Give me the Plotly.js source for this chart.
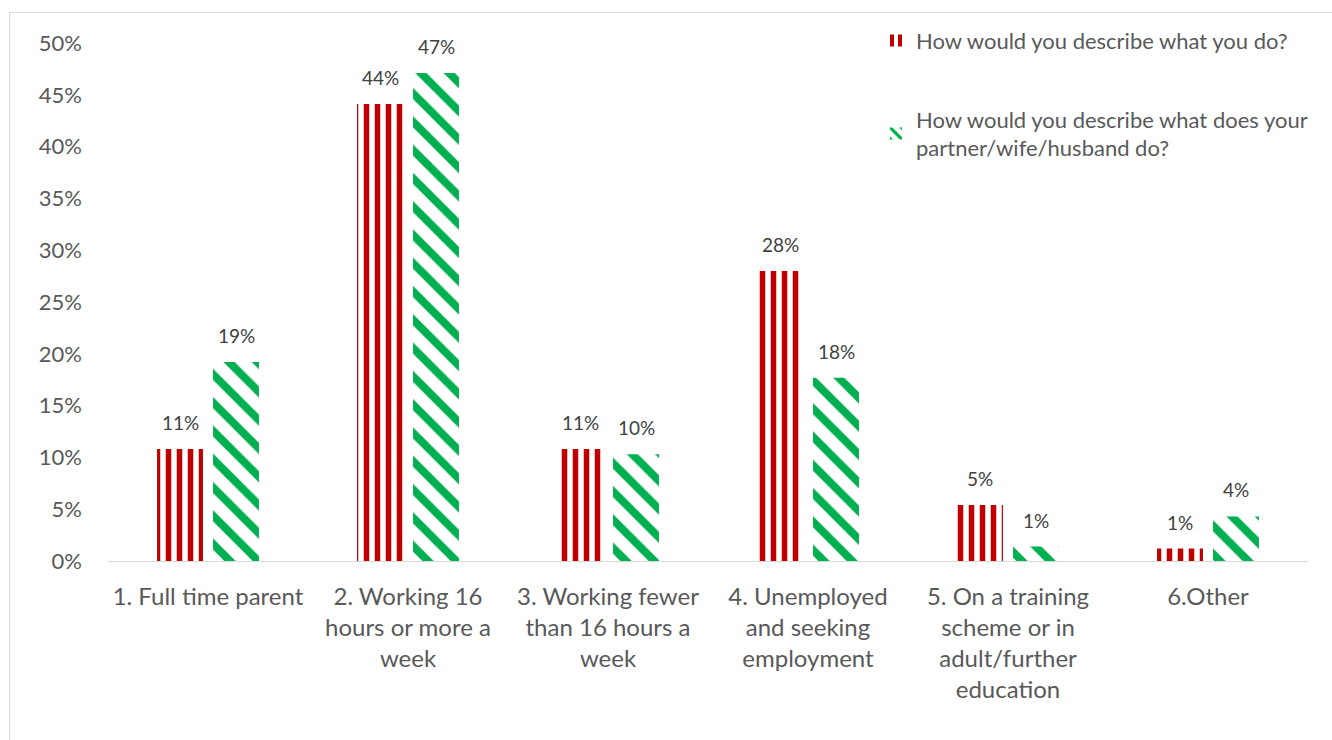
<!DOCTYPE html>
<html><head><meta charset="utf-8">
<script src="https://cdn.plot.ly/plotly-3.0.1.min.js"></script>
<style>
body{margin:0;background:#fff;overflow:hidden}
#chart{width:1332px;height:740px;position:absolute;left:0;top:0}
#frame{position:absolute;left:9px;top:12px;width:1400px;height:800px;border:1px solid #d9d9d9;pointer-events:none}
</style></head>
<body>
<div id="chart"></div>
<div id="frame"></div>
<script>
const categories = ["1. Full time parent","2. Working 16<br>hours or more a<br>week","3. Working fewer<br>than 16 hours a<br>week","4. Unemployed<br>and seeking<br>employment","5. On a training<br>scheme or in<br>adult/further<br>education","6.Other"];
const seriesNames = ["How would you describe what you do?","How would you describe what does your<br>partner/wife/husband do?"];
const selfValues = [0.108,0.441,0.108,0.280,0.054,0.012];
const partnerValues = [0.192,0.471,0.103,0.177,0.014,0.043];

const font = "Lato, 'Open Sans', sans-serif";
const traces = [
 {type:'bar',name:seriesNames[0],x:categories,y:selfValues,legendgroup:'a',
  marker:{color:'#ffffff',line:{width:0},pattern:{shape:'|',fgcolor:'#C00000',bgcolor:'#ffffff',size:11,solidity:0.5,fillmode:'replace'}},
  hoverinfo:'y'},
 {type:'bar',name:seriesNames[1],x:categories,y:partnerValues,legendgroup:'b',
  marker:{color:'#ffffff',line:{width:0},pattern:{shape:'\\',fgcolor:'#00B050',bgcolor:'#ffffff',size:20,solidity:0.4,fillmode:'replace'}},
  hoverinfo:'y'}
];
const annotations = [];
[selfValues,partnerValues].forEach((vals,si)=>{
  vals.forEach((v,i)=>{
    annotations.push({xref:'x',yref:'y',x:categories[i],y:v,xshift:si===0?-28:28,yshift:13,
      text:Math.round(v*100)+'%',showarrow:false,yanchor:'bottom',
      font:{family:font,size:19,color:'#404040'}});
  });
});
const layout = {
  width:1332,height:740,
  margin:{l:108,r:24,t:43,b:179},
  paper_bgcolor:'#fff',plot_bgcolor:'#fff',
  barmode:'group',bargap:0.44,bargroupgap:0.18,
  showlegend:true,
  legend:{x:0.64,y:1.045,xanchor:'left',yanchor:'top',traceorder:'grouped',tracegroupgap:47,
    font:{family:font,size:22,color:'#595959'},bgcolor:'rgba(0,0,0,0)'},
  xaxis:{showline:true,linecolor:'#d9d9d9',linewidth:1,ticks:'',showgrid:false,
    tickfont:{family:font,size:24,color:'#595959'},ticklabelstandoff:14,fixedrange:true},
  yaxis:{range:[0,0.5],dtick:0.05,tickformat:'.0%',showgrid:false,showline:false,zeroline:false,
    tickfont:{family:font,size:22,color:'#595959'},ticklabelstandoff:25,fixedrange:true},
  annotations:annotations
};
Plotly.newPlot('chart',traces,layout,{displayModeBar:false,staticPlot:true});
</script>
</body></html>
